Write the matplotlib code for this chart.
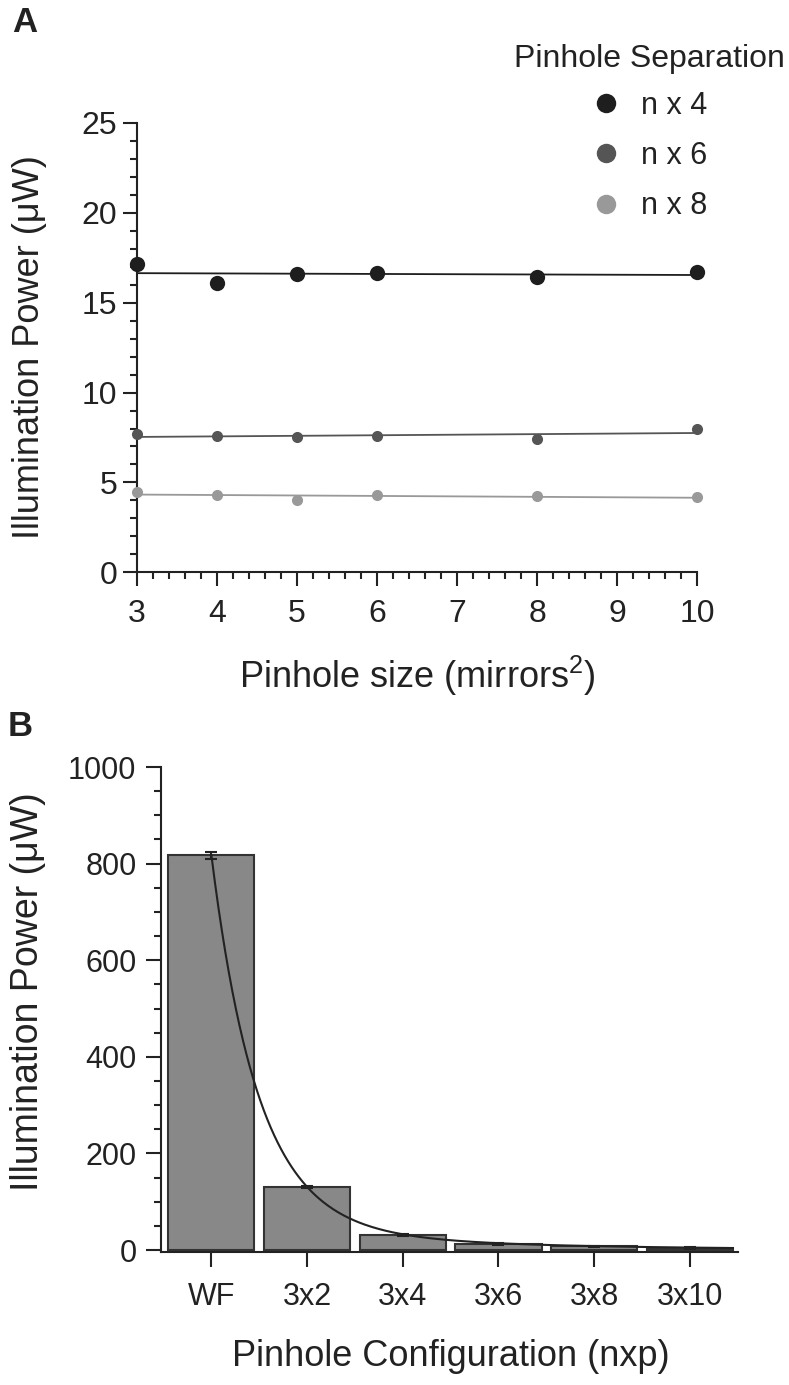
import numpy as np
import matplotlib
matplotlib.use("Agg")
import matplotlib.pyplot as plt
from matplotlib.ticker import MultipleLocator

plt.rcParams['font.family'] = ['Liberation Sans', 'DejaVu Sans']
plt.rcParams['mathtext.fontset'] = 'custom'
plt.rcParams['mathtext.rm'] = 'Liberation Sans'

# Panel A data: illumination power vs pinhole size
pinhole_size = [3, 4, 5, 6, 8, 10]
power_n4 = [17.13, 16.10, 16.57, 16.67, 16.43, 16.70]
power_n6 = [7.69, 7.59, 7.50, 7.56, 7.41, 8.00]
power_n8 = [4.44, 4.31, 4.04, 4.31, 4.22, 4.17]
series_labels = ['n x 4', 'n x 6', 'n x 8']

# Panel B data: illumination power per pinhole configuration
configs = ['WF', '3x2', '3x4', '3x6', '3x8', '3x10']
config_power = [817, 131, 31, 12.4, 8, 5]
config_err = [7, 2, 1.5, 3, 1, 2]

ink = '#222222'
cols = ['#1e1e1e', '#555555', '#999999']
msizes = [11, 8, 8]

fig = plt.figure(figsize=(7.89, 13.85), dpi=100)

# ---------------- panel A ----------------
ax = fig.add_axes([0.1733, 0.5868, 0.7105, 0.3244])
xs = np.array(pinhole_size, dtype=float)
xfit = np.array([3.0, 10.0])
for ys, c, ms, lab in zip([power_n4, power_n6, power_n8], cols, msizes, series_labels):
    ax.plot(xs, ys, 'o', color=c, ms=ms, mec='none', clip_on=False, zorder=3, label=lab)
    coef = np.polyfit(xs, ys, 1)
    ax.plot(xfit, np.polyval(coef, xfit), '-', color=c, lw=1.3, zorder=2)

ax.set_xlim(3, 10)
ax.set_ylim(0, 25)
ax.xaxis.set_major_locator(MultipleLocator(1))
ax.xaxis.set_minor_locator(MultipleLocator(0.2))
ax.yaxis.set_major_locator(MultipleLocator(5))
ax.yaxis.set_minor_locator(MultipleLocator(1))
for s in ['top', 'right']:
    ax.spines[s].set_visible(False)
for s in ['left', 'bottom']:
    ax.spines[s].set_linewidth(1.5)
    ax.spines[s].set_color(ink)
ax.tick_params(which='major', length=10, width=1.5, color=ink, labelsize=23, labelcolor=ink)
ax.tick_params(which='minor', length=5, width=1.5, color=ink)
ax.tick_params(axis='x', which='major', pad=9)
ax.tick_params(axis='y', which='major', pad=4)

fig.text(30/789, 1-347/1385, 'Illumination Power (\u03bcW)', rotation=90,
         ha='center', va='center', fontsize=26, color=ink)
fig.text(417/789, 1-688/1385, 'Pinhole size (mirrors$^{2}$)', ha='center',
         va='baseline', fontsize=26, color=ink)

leg = fig.legend(loc='upper center', bbox_to_anchor=(649/789, 1-29/1385),
                 title='Pinhole Separation', frameon=False, fontsize=22,
                 title_fontsize=23, handletextpad=0.65,
                 labelspacing=0.66, handlelength=1.0, borderpad=0,
                 labelcolor=ink)
leg.get_title().set_color(ink)
for h in leg.legend_handles:
    h.set_markersize(14)
leg._legend_box.sep = 12

fig.text(12/789, 1-22/1385, 'A', fontsize=25, fontweight='bold', color=ink,
         ha='left', va='center')

# ---------------- panel B ----------------
bx = fig.add_axes([0.2037, 0.0957, 0.7313, 0.3505])
pos = np.arange(len(configs))
bx.bar(pos, config_power, width=0.9, color='#888888', edgecolor='#333333',
       linewidth=1.5, zorder=2)
bx.errorbar(pos, config_power, yerr=config_err, fmt='none', ecolor=ink,
            elinewidth=1.5, capsize=4.5, capthick=1.5, zorder=3)

# two-phase exponential decay fitted by curve stripping
yv = np.array(config_power, dtype=float)
slow = np.polyfit(pos[3:], np.log(yv[3:]), 1)
rest = yv[:3] - np.exp(np.polyval(slow, pos[:3]))
fast = np.polyfit(pos[:3], np.log(rest), 1, w=rest)
xc = np.linspace(0, 5.45, 300)
yc = np.exp(np.polyval(fast, xc)) + np.exp(np.polyval(slow, xc))
bx.plot(xc, yc, '-', color=ink, lw=1.5, zorder=4)

bx.set_xlim(-0.53, 5.5)
bx.set_ylim(-5, 1000)
bx.set_xticks(pos)
bx.set_xticklabels(configs)
bx.set_yticks(np.arange(0, 1001, 200))
bx.yaxis.set_minor_locator(MultipleLocator(50))
bx.spines['left'].set_bounds(-5, 1000)
for s in ['top', 'right']:
    bx.spines[s].set_visible(False)
for s in ['left', 'bottom']:
    bx.spines[s].set_linewidth(1.5)
    bx.spines[s].set_color(ink)
bx.tick_params(which='major', length=10.5, width=1.5, color=ink, labelsize=22, labelcolor=ink)
bx.tick_params(which='minor', length=5, width=1.5, color=ink)
bx.tick_params(axis='x', which='major', length=11, pad=10)
bx.tick_params(axis='y', which='major', pad=7)

fig.text(28/789, 1-992/1385, 'Illumination Power (\u03bcW)', rotation=90,
         ha='center', va='center', fontsize=27, color=ink)
fig.text(451/789, 1-1366/1385, 'Pinhole Configuration (nxp)', ha='center',
         va='baseline', fontsize=26, color=ink)
fig.text(8/789, 1-727/1385, 'B', fontsize=25, fontweight='bold', color=ink,
         ha='left', va='center')

fig.savefig('out.png', dpi=100)
